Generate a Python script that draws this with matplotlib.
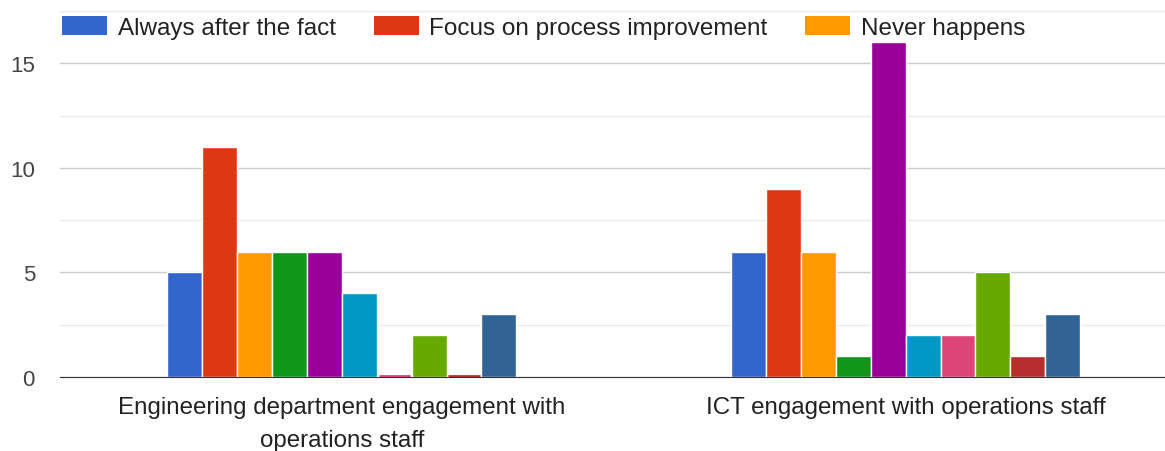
import matplotlib
matplotlib.use("Agg")
import matplotlib.pyplot as plt
from matplotlib.patches import Patch
import numpy as np

plt.rcParams['font.family'] = ['Liberation Sans', 'DejaVu Sans']

categories = ["Engineering department engagement with\noperations staff",
              "ICT engagement with operations staff"]
series_names = ["Always after the fact", "Focus on process improvement", "Never happens",
                "Series 4", "Series 5", "Series 6", "Series 7", "Series 8", "Series 9", "Series 10"]
values = [
    [5, 6],
    [11, 9],
    [6, 6],
    [6, 1],
    [6, 16],
    [4, 2],
    [0, 2],
    [2, 5],
    [0, 1],
    [3, 3],
]
colors = ["#3366cc", "#dc3912", "#ff9900", "#109618", "#990099",
          "#0099c6", "#dd4477", "#66aa00", "#b82e2e", "#316395"]
legend_shown = 3
yticks = [0, 5, 10, 15]

fig = plt.figure(figsize=(11.65, 4.52), dpi=100)
ax = fig.add_axes([0.0515, 0.1637, 0.9485, 0.8098])

n = len(values)
x = np.arange(len(categories))
group_w = 0.619
bw = group_w / n
for i, (vals, c) in enumerate(zip(values, colors)):
    pos = x - group_w / 2 + bw * (i + 0.5)
    ax.bar(pos, vals, width=bw, color=c, edgecolor="#ffffff", linewidth=1.0, zorder=3)
    for p, v in zip(pos, vals):
        if v == 0:
            ax.hlines(0.05, p - bw * 0.45, p + bw * 0.45, color=c, lw=2, zorder=4)

ax.set_xlim(-0.5, 1.46)
ax.set_ylim(0, 17.5)
ax.set_yticks(yticks)
ax.set_yticks(np.arange(2.5, 17.6, 5), minor=True)
ax.grid(axis='y', which='major', color="#cccccc", lw=1, zorder=0)
ax.grid(axis='y', which='minor', color="#ebebeb", lw=1, zorder=0)
ax.tick_params(axis='y', which='both', length=0, labelsize=16, labelcolor="#444444", pad=18)
ax.set_xticks(x)
labels = ax.set_xticklabels(categories, fontsize=17.4, color="#222222")
for t in labels:
    t.set_linespacing(1.6)
ax.tick_params(axis='x', length=0, pad=14)
for s in ["top", "right", "left"]:
    ax.spines[s].set_visible(False)
ax.spines["bottom"].set_color("#333333")
ax.spines["bottom"].set_zorder(5)
ax.axhline(17.5, color="#ebebeb", lw=1, zorder=0)

handles = [Patch(facecolor=colors[i], edgecolor="none") for i in range(legend_shown)]
fig.legend(handles, series_names[:legend_shown], loc="center left",
           bbox_to_anchor=(62 / 1165, 1 - 28.5 / 452), ncol=3, frameon=False,
           fontsize=17.5, handlelength=1.85, handleheight=0.85, handletextpad=0.45,
           columnspacing=1.55, borderpad=0, borderaxespad=0, labelcolor="#222222")

fig.savefig("out.png", dpi=100)
